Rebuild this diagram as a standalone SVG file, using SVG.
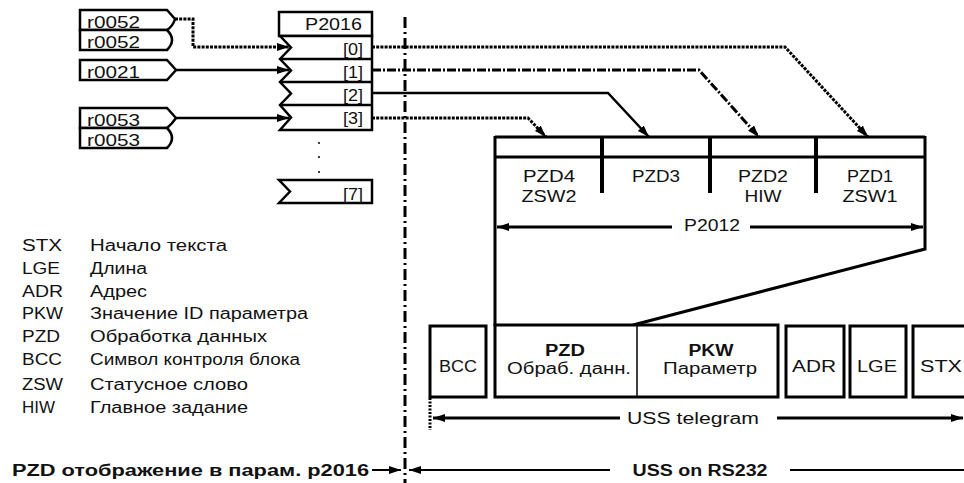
<svg xmlns="http://www.w3.org/2000/svg" width="964" height="483" viewBox="0 0 964 483">
<style>
text{font-family:"Liberation Sans",Arial,sans-serif;font-size:16px;fill:#111;}
.b{font-weight:bold;}
.m{text-anchor:middle;}
.box{fill:#fff;stroke:#000;stroke-width:2.5;stroke-linejoin:miter;}
.tb{fill:#fff;stroke:#000;stroke-width:3;}
.ln{fill:none;stroke:#000;stroke-width:2.5;}
.dot{stroke-dasharray:3 1.2;stroke-width:3;}
.dash{stroke-dasharray:9 2 2 2;stroke-width:3;}
.sol{stroke-width:2.5;}
.dd{fill:none;stroke:#000;stroke-width:3;stroke-dasharray:11 4 2 4;}
</style>
<defs>
<marker id="ah" viewBox="0 0 12 8" refX="12" refY="4" markerWidth="12" markerHeight="8" orient="auto" markerUnits="userSpaceOnUse"><path d="M0,0 L12,4 L0,8 Z" fill="#000"/></marker>
<marker id="as" viewBox="0 0 12 8" refX="12" refY="4" markerWidth="12" markerHeight="8" orient="auto-start-reverse" markerUnits="userSpaceOnUse"><path d="M0,0 L12,4 L0,8 Z" fill="#000"/></marker>
</defs>

<g id="in-r0052a"><path class="box" d="M80,10 H167 L175,19 Q173,26 167,30 H80 Z"/><text x="87" y="28" textLength="53" lengthAdjust="spacingAndGlyphs">r0052</text></g>
<g id="in-r0052b"><path class="box" d="M80,30 H167 Q177,40 167,50 H80 Z"/><text x="87" y="48" textLength="53" lengthAdjust="spacingAndGlyphs">r0052</text></g>
<g id="in-r0021"><path class="box" d="M80,60 H167 L176,70 L167,80 H80 Z"/><text x="87" y="78" textLength="53" lengthAdjust="spacingAndGlyphs">r0021</text></g>
<g id="in-r0053a"><path class="box" d="M80,108 H167 L176,118 Q172,124 167,128 H80 Z"/><text x="87" y="126" textLength="53" lengthAdjust="spacingAndGlyphs">r0053</text></g>
<g id="in-r0053b"><path class="box" d="M80,128 H167 Q177,138 167,148 H80 Z"/><text x="87" y="146" textLength="53" lengthAdjust="spacingAndGlyphs">r0053</text></g>

<g id="P2016">
<rect class="box" x="279" y="12" width="93" height="24"/>
<path class="box" d="M279,36 H372 V130 H280 L291,117.5 L280,105 L291,93.5 L280,82 L291,70.5 L280,59 L291,47.5 L280,36 Z"/>
<path class="ln" d="M280,59 H372 M280,82 H372 M280,105 H372"/>
<text x="305" y="30" textLength="57" lengthAdjust="spacingAndGlyphs">P2016</text>
<text x="343" y="55" textLength="20" lengthAdjust="spacingAndGlyphs">[0]</text>
<text x="343" y="78" textLength="20" lengthAdjust="spacingAndGlyphs">[1]</text>
<text x="343" y="101" textLength="20" lengthAdjust="spacingAndGlyphs">[2]</text>
<text x="343" y="124" textLength="20" lengthAdjust="spacingAndGlyphs">[3]</text>
<circle cx="319" cy="143" r="1" fill="#000"/><circle cx="319" cy="157" r="1" fill="#000"/><circle cx="319" cy="172" r="1" fill="#000"/>
</g>
<g id="P2016-7">
<path class="box" d="M279,180 H372 V203 H279 L290,191.5 Z"/>
<text x="343" y="200" textLength="20" lengthAdjust="spacingAndGlyphs">[7]</text>
</g>

<g id="P2012">
<path class="ln" d="M495,137 H925 M495,157 H925" style="stroke-width:3"/>
<path class="ln" d="M495,136 V326 M925,136 V249 L633,325" style="stroke-width:3"/>
<path class="ln" d="M602,137 V193 M710,137 V193 M816,137 V193" style="stroke-width:4"/>
<text class="m" x="549" y="182" textLength="52" lengthAdjust="spacingAndGlyphs">PZD4</text>
<text class="m" x="549" y="202" textLength="55" lengthAdjust="spacingAndGlyphs">ZSW2</text>
<text class="m" x="656" y="182" textLength="48" lengthAdjust="spacingAndGlyphs">PZD3</text>
<text class="m" x="763" y="182" textLength="50" lengthAdjust="spacingAndGlyphs">PZD2</text>
<text class="m" x="763" y="202" textLength="37" lengthAdjust="spacingAndGlyphs">HIW</text>
<text class="m" x="870" y="182" textLength="46" lengthAdjust="spacingAndGlyphs">PZD1</text>
<text class="m" x="870" y="202" textLength="55" lengthAdjust="spacingAndGlyphs">ZSW1</text>
<text class="m" x="712" y="231" textLength="56" lengthAdjust="spacingAndGlyphs">P2012</text>
</g>

<g id="tg-BCC"><rect class="tb" x="430" y="326" width="56" height="71"/><text class="m" x="458" y="372" textLength="38" lengthAdjust="spacingAndGlyphs">BCC</text></g>
<g id="tg-PZD-PKW">
<rect class="tb" x="495" y="325" width="283" height="72"/>
<line x1="637" y1="325" x2="637" y2="397" stroke="#000" stroke-width="1.5"/>
<text class="m b" x="565" y="356" textLength="40" lengthAdjust="spacingAndGlyphs">PZD</text>
<text class="m" x="569" y="374" textLength="124" lengthAdjust="spacingAndGlyphs">Обраб. данн.</text>
<text class="m b" x="711" y="356" textLength="45" lengthAdjust="spacingAndGlyphs">PKW</text>
<text class="m" x="710" y="374" textLength="94" lengthAdjust="spacingAndGlyphs">Параметр</text>
</g>
<g id="tg-ADR"><rect class="tb" x="786" y="326" width="58" height="71"/><text class="m" x="814" y="372" textLength="44" lengthAdjust="spacingAndGlyphs">ADR</text></g>
<g id="tg-LGE"><rect class="tb" x="850" y="326" width="56" height="71"/><text class="m" x="877" y="372" textLength="40" lengthAdjust="spacingAndGlyphs">LGE</text></g>
<g id="tg-STX"><rect class="tb" x="913" y="326" width="60" height="71"/><text class="m" x="941" y="372" textLength="42" lengthAdjust="spacingAndGlyphs">STX</text></g>

<g id="legend">
<text x="22" y="251" textLength="40" lengthAdjust="spacingAndGlyphs">STX</text><text x="90" y="251" textLength="137" lengthAdjust="spacingAndGlyphs">Начало текста</text>
<text x="22" y="274" textLength="38" lengthAdjust="spacingAndGlyphs">LGE</text><text x="90" y="274" textLength="57" lengthAdjust="spacingAndGlyphs">Длина</text>
<text x="22" y="297" textLength="41" lengthAdjust="spacingAndGlyphs">ADR</text><text x="90" y="297" textLength="57" lengthAdjust="spacingAndGlyphs">Адрес</text>
<text x="22" y="319" textLength="41" lengthAdjust="spacingAndGlyphs">PKW</text><text x="90" y="319" textLength="218" lengthAdjust="spacingAndGlyphs">Значение ID параметра</text>
<text x="22" y="342" textLength="38" lengthAdjust="spacingAndGlyphs">PZD</text><text x="90" y="342" textLength="177" lengthAdjust="spacingAndGlyphs">Обработка данных</text>
<text x="22" y="365" textLength="40" lengthAdjust="spacingAndGlyphs">BCC</text><text x="90" y="365" textLength="210" lengthAdjust="spacingAndGlyphs">Символ контроля блока</text>
<text x="22" y="390" textLength="41" lengthAdjust="spacingAndGlyphs">ZSW</text><text x="90" y="390" textLength="158" lengthAdjust="spacingAndGlyphs">Статусное слово</text>
<text x="22" y="413" textLength="33" lengthAdjust="spacingAndGlyphs">HIW</text><text x="90" y="413" textLength="158" lengthAdjust="spacingAndGlyphs">Главное задание</text>
</g>

<g id="connectors">
<path class="ln dot" d="M175,19 H193 V47 H289" marker-end="url(#ah)"/>
<path class="ln sol" d="M176,70 H289" marker-end="url(#ah)"/>
<path class="ln sol" d="M176,118 H289" marker-end="url(#ah)"/>
<path class="ln dot" d="M372,47 H785 L868,137" marker-end="url(#ah)"/>
<path class="ln dash" d="M372,70 H699 L759,137" marker-end="url(#ah)"/>
<path class="ln sol" d="M372,93 H608 L649,137" marker-end="url(#ah)"/>
<path class="ln dot" d="M372,118 H528 L546,137" marker-end="url(#ah)"/>
<line class="dd" x1="405" y1="17" x2="405" y2="483"/>
<path class="ln" d="M497,227 H672 M750,227 H923" marker-start="url(#as)" marker-end="url(#ah)" style="stroke-width:3"/>
<path class="ln" d="M430,398 V430" style="stroke-dasharray:2 1.5;stroke-width:3"/>
<path class="ln" d="M433,418 H620" marker-start="url(#as)" style="stroke-width:3"/>
<path class="ln" d="M777,418 H963" marker-end="url(#ah)" style="stroke-width:3"/>
<path class="ln" d="M372,470 H401" marker-end="url(#ah)" style="stroke-width:2"/>
<path class="ln" d="M409,470 H610" marker-start="url(#as)" style="stroke-width:2"/>
<path class="ln" d="M790,470 H964" style="stroke-width:2"/>
</g>
<g id="captions">
<text x="693" y="424" class="m" textLength="132" lengthAdjust="spacingAndGlyphs">USS telegram</text>
<text x="12" y="476" class="b" textLength="357" lengthAdjust="spacingAndGlyphs">PZD отображение в парам. p2016</text>
<text x="700" y="476" class="m b" textLength="135" lengthAdjust="spacingAndGlyphs">USS on RS232</text>
</g>
</svg>
